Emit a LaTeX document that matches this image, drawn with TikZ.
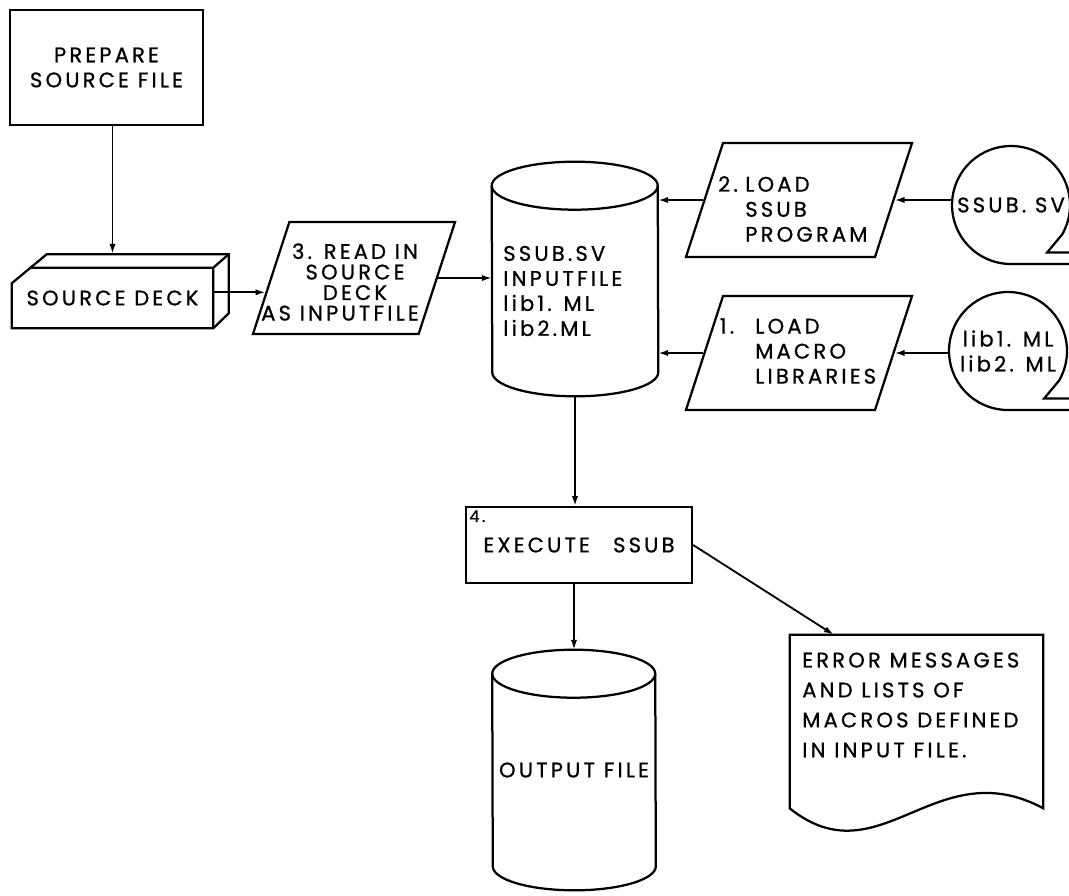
\documentclass[tikz,border=0pt]{standalone}
\usepackage{fontspec}
\setmainfont{Poppins}[LetterSpace=15, FakeBold=0.8]
\usepackage{tikz}
\usetikzlibrary{
  arrows.meta,
  shapes.geometric,
  positioning,
  calc
}
\newcommand\lettering{\fontsize{15}{17.8}\selectfont}
\newcommand\tightlettering{\fontsize{15}{14.6}\selectfont}
\newcommand\looselettering{\fontsize{15}{21.3}\selectfont}
\newcommand\smalllettering{\fontsize{11.5}{13}\selectfont}
\tikzset{
  shapeline/.style={line width=1.6pt},
  flowbox/.style={draw, shapeline, font=\lettering, align=center, inner sep=0pt},
  lettertext/.style={inner sep=0pt, font=\lettering, align=left},
  io/.style={
    draw, shapeline, trapezium, trapezium left angle=72, trapezium right angle=108,
    trapezium stretches body, inner xsep=0pt
  },
  tape/.style={circle, minimum size=2.95cm, inner sep=0pt, outer sep=0pt, font=\lettering, align=center},
  store/.style={inner sep=0pt, font=\lettering, align=center},
  flow/.style={-{Latex[length=7pt,width=4.5pt]}, line width=1.3pt}
}

\begin{document}
\begin{tikzpicture}[x=0.025cm, y=-0.025cm]
  \useasboundingbox (0,0) rectangle (1069,895);

  % source side
  \node[flowbox, minimum width=4.825cm, minimum height=2.875cm] (prepare) at (106.5,67.5) {PREPARE\\SOURCE FILE};
  \node[lettertext, align=center, minimum width=5.025cm, minimum height=1.5cm] (deck) at (112.5,298) {SOURCE DECK};
  \draw[shapeline] (deck.south west) -- ++(0,-45) -- ++(35,-29) -- ++(182,0) -- ++(0,59) -- (deck.south east) -- cycle;
  \draw[shapeline] (deck.north west) ++(18,0) -- (deck.north east) -- (deck.south east) (deck.north east) -- ++(16,-14);
  \node[io, inner ysep=1.4cm, minimum width=5.05cm] (read) at (354,278) {};
  \node[lettertext, align=center, font=\tightlettering] (readtext) at (355,282) {3. READ IN\\SOURCE\\DECK\\AS INPUTFILE\hspace*{.75cm}};
  \coordinate (readin) at ($(read.bottom left corner)!.375!(read.top left corner)$);

  % disk file
  \node[store, minimum width=4.15cm, minimum height=5.85cm] (db) at (575,279) {};
  \draw[shapeline] ([yshift=-.6cm]db.north west) arc[start angle=180, end angle=0, x radius=2.075cm, y radius=.6cm]
    -- ([yshift=.6cm]db.south east) arc[start angle=0, end angle=-180, x radius=2.075cm, y radius=.6cm] -- cycle;
  \draw[shapeline] ([yshift=-.6cm]db.north west) arc[start angle=180, end angle=360, x radius=2.075cm, y radius=.6cm];
  \node[lettertext, anchor=west] (dbtext) at (503,291) {SSUB.SV\\INPUTFILE\\lib1. ML\\lib2.ML};

  % loading steps
  \node[io, inner ysep=1.425cm, minimum width=5.65cm] (loadprog) at (799,200) {};
  \node[lettertext, anchor=west] (loadprogtext) at (745,209) {\llap{2.\hspace{.35em}}LOAD\\SSUB\\PROGRAM};
  \node[io, inner ysep=1.425cm, minimum width=5.65cm] (loadlib) at (799,353) {};
  \node[lettertext, anchor=west] (loadlibtext) at (755,351) {\llap{1.\hspace{1em}}LOAD\\MACRO\\LIBRARIES};

  % tapes
  \node[tape] (svtape) at (1011,205) {SSUB. SV};
  \draw[shapeline] (svtape.-30) arc[start angle=-30, end angle=270, radius=1.475cm] -- ++(70,0)
    (svtape.-30) -- ++(-15,18) -- ++(40,0);
  \node[tape] (mltape) at (1008,351) {lib1. ML\\lib2. ML};
  \draw[shapeline] (mltape.-30) arc[start angle=-30, end angle=270, radius=1.475cm] -- ++(70,0)
    (mltape.-30) -- ++(-15,18) -- ++(40,0);

  % execution and results
  \node[flowbox, minimum width=5.65cm, minimum height=1.9cm] (exec) at (579,545) {EXECUTE\hspace{1.1em}SSUB};
  \node[font=\smalllettering, anchor=north west, inner sep=3pt] (stepfour) at (exec.north west) {4.};
  \node[store, minimum width=4.075cm, minimum height=6cm] (out) at (574,770) {OUTPUT FILE};
  \draw[shapeline] ([yshift=-.6cm]out.north west) arc[start angle=180, end angle=0, x radius=2.0375cm, y radius=.6cm]
    -- ([yshift=.6cm]out.south east) arc[start angle=0, end angle=-180, x radius=2.0375cm, y radius=.6cm] -- cycle;
  \draw[shapeline] ([yshift=-.6cm]out.north west) arc[start angle=180, end angle=360, x radius=2.0375cm, y radius=.6cm];
  \node[inner sep=0pt, minimum width=6.325cm, minimum height=4.325cm] (doc) at (916.5,721.5) {};
  \draw[shapeline] (doc.south west) -- (doc.north west) -- (doc.north east) -- (doc.south east)
    .. controls +(-108,-58) and +(90,72) .. (doc.south west) -- cycle;
  \node[lettertext, anchor=west, font=\looselettering] (doctext) at (802,705) {ERROR MESSAGES\\AND LISTS OF\\MACROS DEFINED\\IN INPUT FILE.};

  % connectors
  \draw[flow] (prepare.south -| deck.north) -- ([yshift=.35cm]deck.north);
  \draw[flow] (deck.east |- readin) -- (readin);
  \draw[flow] (read.east) -- (read.east -| db.west);
  \draw[flow] (loadprog.west) -- (loadprog.west -| db.east);
  \draw[flow] (loadlib.west) -- (loadlib.west -| db.east);
  \draw[flow] (loadprog.east -| svtape.west) -- (loadprog.east);
  \draw[flow] (loadlib.east -| mltape.west) -- (loadlib.east);
  \draw[flow] (db.south) -- (db.south |- exec.north);
  \draw[flow] (exec.south -| out.north) -- (out.north);
  \draw[flow] (exec.east) -- ([xshift=1.1cm]doc.north west);
\end{tikzpicture}
\end{document}
